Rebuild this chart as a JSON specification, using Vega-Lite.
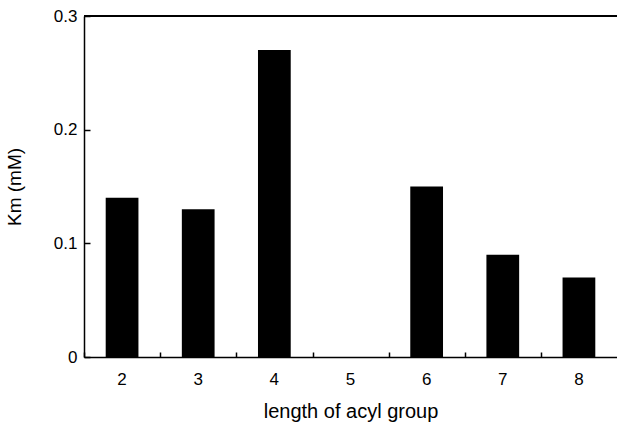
{
  "$schema": "https://vega.github.io/schema/vega-lite/v6.json",
  "autosize": {"type": "none"},
  "padding": {"left": 84, "top": 16, "right": 0, "bottom": 82},
  "width": 533,
  "height": 341,
  "background": "white",
  "config": {
    "view": {"stroke": null},
    "font": "Liberation Sans",
    "axis": {"domainColor": "black", "tickColor": "black", "labelColor": "black", "titleColor": "black", "labelFont": "Liberation Sans", "titleFont": "Liberation Sans", "titleFontWeight": "normal", "grid": false, "domainWidth": 1.5, "tickWidth": 1.5}
  },
  "data": {"values": [
    {"length": "2", "km": 0.14},
    {"length": "3", "km": 0.13},
    {"length": "4", "km": 0.27},
    {"length": "5", "km": 0},
    {"length": "6", "km": 0.15},
    {"length": "7", "km": 0.09},
    {"length": "8", "km": 0.07}
  ]},
  "resolve": {"axis": {"x": "independent"}},
  "layer": [
    {
      "mark": {"type": "bar", "color": "black"},
      "encoding": {
        "x": {"field": "length", "type": "ordinal", "sort": null,
              "scale": {"paddingInner": 0.57, "paddingOuter": 0.285},
              "axis": {"orient": "bottom", "title": "length of acyl group", "labelAngle": 0, "ticks": false, "labelFontSize": 17, "titleFontSize": 20, "labelPadding": 14, "titlePadding": 14}},
        "y": {"field": "km", "type": "quantitative",
              "scale": {"domain": [0, 0.3], "nice": false},
              "axis": {"title": "Km (mM)", "values": [0, 0.1, 0.2, 0.3], "format": "~g", "tickSize": -6, "labelFontSize": 17, "titleFontSize": 19, "labelPadding": 13, "titlePadding": 29}}
      }
    },
    {
      "mark": {"type": "bar", "opacity": 0},
      "encoding": {
        "x": {"field": "length", "type": "ordinal", "sort": null,
              "axis": {"orient": "bottom", "title": null, "labels": false, "domain": false, "tickOffset": -38, "tickSize": -5}},
        "y": {"field": "km", "type": "quantitative"}
      }
    },
    {
      "mark": {"type": "rule", "color": "black", "strokeWidth": 1.5},
      "encoding": {"y": {"datum": 0.3}}
    }
  ]
}
